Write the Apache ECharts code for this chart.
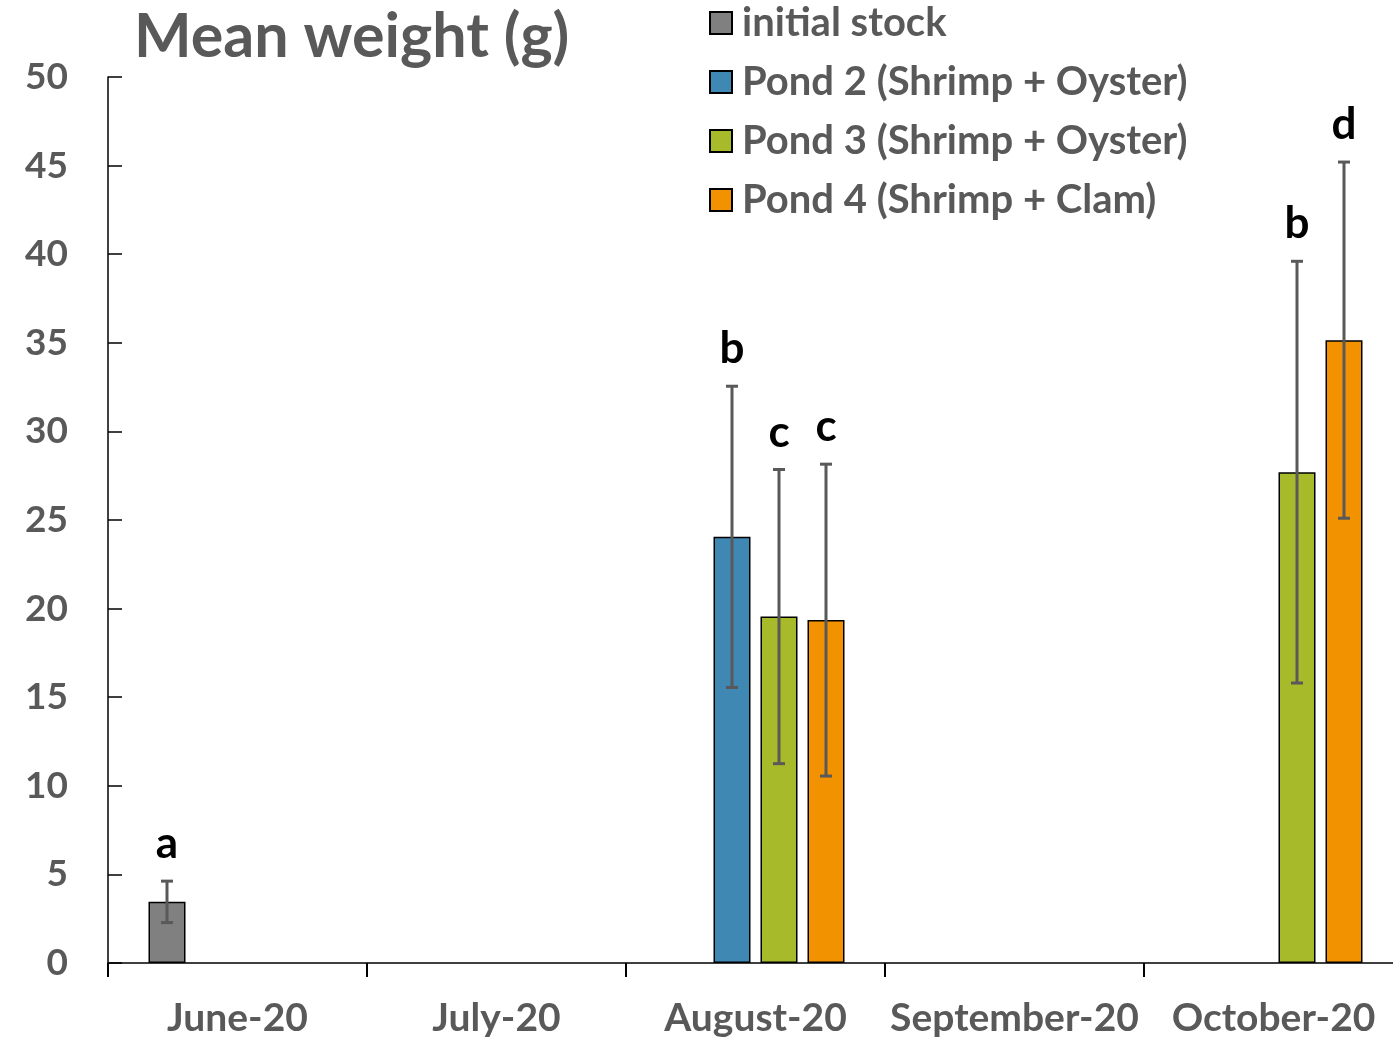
<!DOCTYPE html>
<html><head><meta charset="utf-8">
<script src="https://cdn.jsdelivr.net/npm/echarts@6/dist/echarts.min.js"></script>
<style>html,body{margin:0;padding:0;background:#fff;overflow:hidden;width:1393px;height:1040px}#c{width:1403px;height:1040px}</style>
</head><body><div id="c"></div>
<script>
const categories = ['June-20', 'July-20', 'August-20', 'September-20', 'October-20'];
const seriesNames = ['initial stock', 'Pond 2 (Shrimp + Oyster)', 'Pond 3 (Shrimp + Oyster)', 'Pond 4 (Shrimp + Clam)'];
const initialStock = [3.45, null, null, null, null];
const pond2 = [null, null, 24.05, null, null];
const pond3 = [null, null, 19.55, null, 27.7];
const pond4 = [null, null, 19.35, null, 35.15];
const initialStockErr = [1.17, null, null, null, null];
const pond2Err = [null, null, 8.5, null, null];
const pond3Err = [null, null, 8.3, null, 11.9];
const pond4Err = [null, null, 8.8, null, 10.05];
const initialStockLetters = ['a', null, null, null, null];
const pond2Letters = [null, null, 'b', null, null];
const pond3Letters = [null, null, 'c', null, 'b'];
const pond4Letters = [null, null, 'c', null, 'd'];
const yTicks = [0, 5, 10, 15, 20, 25, 30, 35, 40, 45, 50];

const colors = ['#808080', '#3F88B4', '#A6BA2A', '#F39200'];
const FONT = 'Lato';
const GREY = '#595959';
const BAR_W = 37, GAP = 10;

const means = [initialStock, pond2, pond3, pond4];
const errs = [initialStockErr, pond2Err, pond3Err, pond4Err];
const letters = [initialStockLetters, pond2Letters, pond3Letters, pond4Letters];

const errData = [], errLetters = [];
means.forEach((arr, s) => arr.forEach((v, i) => {
  if (v != null) { errData.push([i, v, errs[s][i], s]); errLetters.push(letters[s][i]); }
}));

const chart = echarts.init(document.getElementById('c'), null, {renderer: 'canvas'});
const barSeries = means.map((arr, s) => ({
  name: seriesNames[s], type: 'bar', data: arr, barWidth: BAR_W, barGap: (GAP / BAR_W * 100) + '%',
  itemStyle: {color: colors[s], borderColor: '#000', borderWidth: 1.5},
  z: 2
}));

chart.setOption({
  animation: false,
  title: {text: 'Mean weight (g)', left: 129, top: 2,
    textStyle: {fontFamily: FONT, fontWeight: 'bold', fontSize: 61, color: GREY}},
  legend: {orient: 'vertical', left: 704, top: -2, itemWidth: 22, itemHeight: 22, itemGap: 19,
    icon: 'rect',
    textStyle: {fontFamily: FONT, fontWeight: 'bold', fontSize: 40, color: GREY, lineHeight: 40, padding: [0, 0, 0, 5]},
    data: seriesNames},
  grid: {left: 108, top: 77, bottom: 77, right: 0, containLabel: false},
  xAxis: {type: 'category', data: categories, boundaryGap: true,
    axisLine: {lineStyle: {color: '#000', width: 1.5}},
    axisTick: {show: true, inside: false, length: 14, lineStyle: {color: '#000', width: 2}},
    axisLabel: {fontFamily: FONT, fontWeight: 'bold', fontSize: 39, color: GREY, margin: 36, interval: 0}},
  yAxis: {type: 'value', min: yTicks[0], max: yTicks[yTicks.length - 1], interval: 5,
    axisLine: {show: true, lineStyle: {color: '#000', width: 1.5}},
    axisTick: {show: true, inside: true, length: 14, lineStyle: {color: '#000', width: 1.5}},
    splitLine: {show: false},
    axisLabel: {fontFamily: FONT, fontWeight: 'bold', fontSize: 37, color: GREY, margin: 40}},
  series: barSeries.concat([{
    type: 'custom', name: 'err', z: 5, data: errData, silent: true,
    encode: {x: 0, y: 1},
    renderItem: function (params, api) {
      const x = api.value(0), m = api.value(1), e = api.value(2), s = api.value(3);
      const off = (s - 1.5) * (BAR_W + GAP);
      const hi = api.coord([x, m + e]), lo = api.coord([x, m - e]);
      const px = hi[0] + off;
      const st = {stroke: GREY, lineWidth: 3};
      const letter = errLetters[params.dataIndex];
      return {type: 'group', children: [
        {type: 'line', shape: {x1: px, y1: hi[1], x2: px, y2: lo[1]}, style: st},
        {type: 'line', shape: {x1: px - 6, y1: hi[1], x2: px + 6, y2: hi[1]}, style: st},
        {type: 'line', shape: {x1: px - 6, y1: lo[1], x2: px + 6, y2: lo[1]}, style: st},
        {type: 'text', x: px, y: hi[1] - 15, style: {text: letter || '', fill: '#000',
          font: 'bold 44px ' + FONT, textAlign: 'center', textVerticalAlign: 'bottom'}}
      ]};
    }
  }])
});
</script></body></html>
